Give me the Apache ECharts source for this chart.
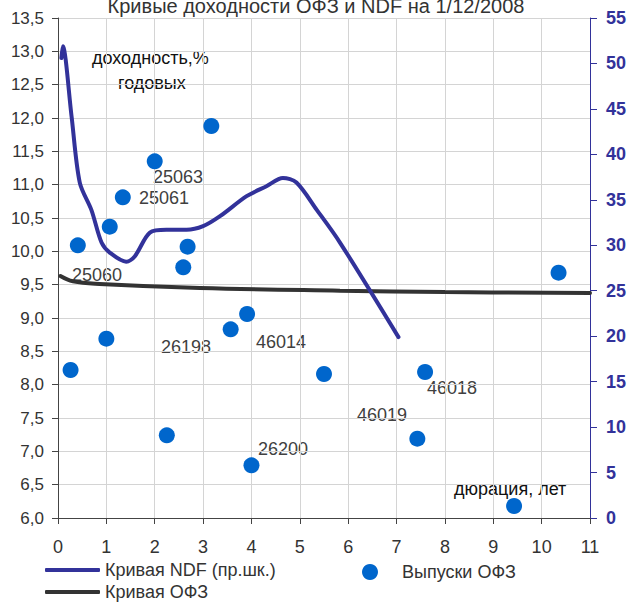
<!DOCTYPE html>
<html>
<head>
<meta charset="utf-8">
<script src="https://cdn.jsdelivr.net/npm/echarts@6/dist/echarts.min.js"></script>
<style>
  html, body { margin: 0; padding: 0; background: #fff; }
  #chart { width: 632px; height: 604px; }
</style>
</head>
<body>
<div id="chart"></div>
<script>
// --- data ---
var xTicks = [0, 1, 2, 3, 4, 5, 6, 7, 8, 9, 10, 11];

// NDF curve (right scale)
var ndfX = [0.07, 0.10, 0.28, 0.45, 0.69, 0.90, 1.07, 1.41, 1.59, 1.90, 2.24, 2.66, 3.00, 3.35, 3.90, 4.31, 4.65, 4.93, 5.35, 5.83, 7.04];
var ndfY = [50.6, 51.9, 44.2, 36.9, 33.9, 30.3, 29.2, 28.2, 28.8, 31.4, 31.7, 31.7, 32.1, 33.2, 35.4, 36.5, 37.4, 36.9, 33.9, 30.3, 19.9];

// OFZ curve (left scale)
var ofzX = [0.05, 0.31, 0.86, 2.93, 5.83, 8.0, 11.0];
var ofzY = [9.63, 9.55, 9.51, 9.45, 9.41, 9.39, 9.375];

// individual OFZ issues
var issueX = [0.41, 1.07, 1.34, 2.00, 3.17, 2.68, 2.59, 0.26, 1.00, 2.25, 3.57, 3.91, 4.00, 5.50, 7.59, 7.43, 9.43, 10.35];
var issueY = [10.09, 10.37, 10.81, 11.35, 11.88, 10.07, 9.76, 8.22, 8.69, 7.24, 8.83, 9.06, 6.79, 8.16, 8.19, 7.19, 6.18, 9.68];

var names = ['Кривая NDF (пр.шк.)', 'Выпуски ОФЗ', 'Кривая ОФЗ'];

function zip(a, b) {
  var out = [];
  for (var i = 0; i < a.length; i++) out.push([a[i], b[i]]);
  return out;
}

(function() {
  var navy = '#32329a';
  var blue = '#0066cc';
  var ink = '#333333';
  var grid = '#d4d4d4';
  var font = 'Liberation Sans';

  function note(text, x, y, color) {
    return {
      type: 'text', silent: true,
      style: { text: text, x: x, y: y, verticalAlign: 'middle', fill: color || '#404040', font: '18px "Liberation Sans"' }
    };
  }

  var chart = echarts.init(document.getElementById('chart'), null, { renderer: 'svg' });
  chart.setOption({
    animation: false,
    textStyle: { fontFamily: font },
    title: {
      text: 'Кривые доходности ОФЗ и NDF на 1/12/2008',
      left: 'center', top: -9,
      textStyle: { fontSize: 20, fontWeight: 'normal', color: ink, fontFamily: font }
    },
    grid: { left: 58, right: 42, top: 18, bottom: 86, containLabel: false },
    legend: [
      {
        data: [{ name: names[0], icon: 'roundRect' }],
        left: 45, top: 561, padding: 0, itemWidth: 55, itemHeight: 4,
        textStyle: { fontSize: 18, color: ink, fontFamily: font }
      },
      {
        data: [{ name: names[1], icon: 'circle' }],
        left: 362, top: 563, padding: 0, itemWidth: 16, itemHeight: 16,
        textStyle: { fontSize: 18, color: ink, fontFamily: font, padding: [0, 0, 0, 19] }
      },
      {
        data: [{ name: names[2], icon: 'roundRect' }],
        left: 45, top: 583, padding: 0, itemWidth: 55, itemHeight: 4,
        textStyle: { fontSize: 18, color: ink, fontFamily: font }
      }
    ],
    xAxis: {
      type: 'value', min: 0, max: 11, interval: 1,
      axisLine: { lineStyle: { color: '#444', width: 1 } },
      axisTick: { show: true, length: 6, lineStyle: { color: '#444' } },
      axisLabel: { color: ink, fontSize: 18, margin: 20, fontFamily: font },
      splitLine: { show: true, lineStyle: { color: grid, width: 1 } }
    },
    yAxis: [
      {
        type: 'value', min: 6, max: 13.5, interval: 0.5, position: 'left',
        axisLine: { show: true, lineStyle: { color: '#444', width: 1 } },
        axisTick: { show: true, length: 6, lineStyle: { color: '#444' } },
        axisLabel: {
          color: ink, fontSize: 17, margin: 14, fontFamily: font,
          formatter: function(v) { return v.toFixed(1).replace('.', ','); }
        },
        splitLine: { show: true, lineStyle: { color: grid, width: 1 } }
      },
      {
        type: 'value', min: 0, max: 55, interval: 5, position: 'right',
        axisLine: { show: true, lineStyle: { color: navy, width: 1 } },
        axisTick: { show: true, length: 7, lineStyle: { color: navy } },
        axisLabel: { color: navy, fontSize: 18, fontWeight: 'bold', margin: 16, fontFamily: font },
        splitLine: { show: false }
      }
    ],
    series: [
      {
        name: names[0], type: 'line', yAxisIndex: 1,
        data: zip(ndfX, ndfY), smooth: 0.3, showSymbol: false,
        lineStyle: { color: navy, width: 4, cap: 'round' }, itemStyle: { color: navy },
        z: 3
      },
      {
        name: names[1], type: 'scatter', yAxisIndex: 0,
        data: zip(issueX, issueY), symbolSize: 16,
        itemStyle: { color: blue, opacity: 1 },
        z: 4
      },
      {
        name: names[2], type: 'line', yAxisIndex: 0,
        data: zip(ofzX, ofzY), smooth: 0.4, showSymbol: false,
        lineStyle: { color: ink, width: 4, cap: 'round' }, itemStyle: { color: ink },
        z: 2
      }
    ],
    graphic: [
      note('доходность,%', 92, 58, '#111'),
      note('годовых', 118, 83, '#111'),
      note('25060', 72, 275),
      note('25061', 139, 198),
      note('25063', 153, 177),
      note('26198', 161, 347),
      note('46014', 256, 342),
      note('26200', 258, 449),
      note('46019', 357, 415),
      note('46018', 427, 388),
      note('дюрация, лет', 454, 489, '#111')
    ]
  });
  window.addEventListener('resize', function() { chart.resize(); });
})();
</script>
</body>
</html>
